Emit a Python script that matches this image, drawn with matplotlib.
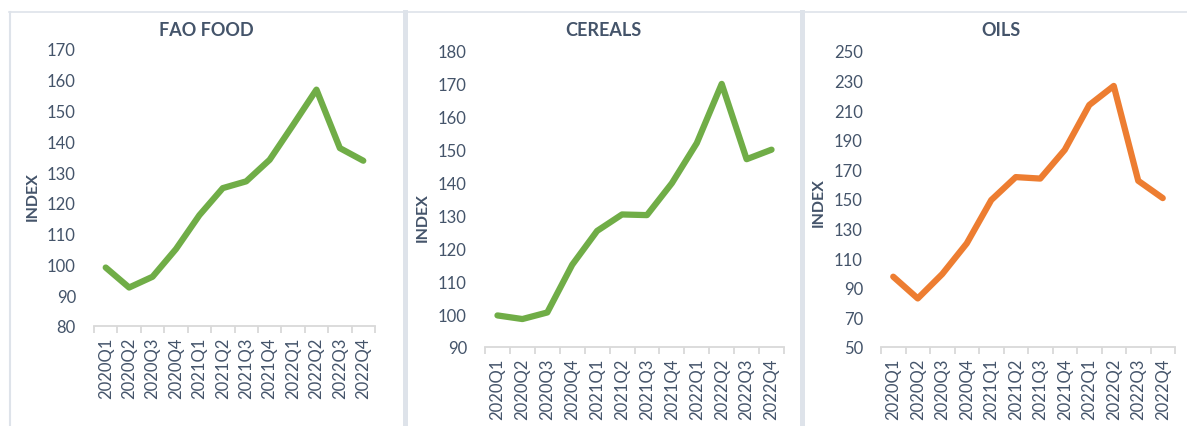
import matplotlib
matplotlib.use("Agg")
import matplotlib.pyplot as plt
from matplotlib.lines import Line2D
import numpy as np

plt.rcParams['font.family'] = ['Lato', 'DejaVu Sans']

quarters = ['2020Q1', '2020Q2', '2020Q3', '2020Q4',
            '2021Q1', '2021Q2', '2021Q3', '2021Q4',
            '2022Q1', '2022Q2', '2022Q3', '2022Q4']

fao_food = [99.0, 92.5, 96.0, 105.0, 116.0, 124.8, 127.0, 134.0, 145.3, 156.8, 137.8, 133.7]
cereals = [99.6, 98.5, 100.5, 115.0, 125.3, 130.3, 130.1, 139.8, 152.0, 170.0, 147.1, 150.0]
oils = [97.5, 82.8, 99.3, 120.0, 149.3, 164.8, 163.8, 183.2, 213.5, 226.4, 162.3, 150.6]

titles = ['FAO FOOD', 'CEREALS', 'OILS']
series = [fao_food, cereals, oils]
colors = ['#70AD47', '#70AD47', '#ED7D31']
yranges = [(80, 170, 10), (90, 180, 10), (50, 250, 20)]

W, H = 1187, 427
txt = '#44546A'
grid = '#D9D9D9'
frame = '#DEE3EA'

fig = plt.figure(figsize=(W / 100, H / 100), dpi=100)

# axes boxes in pixels: left, right, top (max tick), bottom (min tick)
boxes = [(94, 375, 50, 327), (485, 784, 52, 348), (881, 1175, 52, 348)]
title_x = [206, 603, 1001]
index_pos = [(33, 197), (423, 218), (819, 203)]

for i in range(3):
    l, r, t, b = boxes[i]
    ax = fig.add_axes([l / W, 1 - b / H, (r - l) / W, (b - t) / H])
    x = np.arange(len(quarters))
    ax.plot(x, series[i], color=colors[i], lw=4.5, solid_capstyle='round',
            solid_joinstyle='round')
    lo, hi, step = yranges[i]
    ax.set_ylim(lo, hi)
    ax.set_yticks(np.arange(lo, hi + 1, step))
    ax.set_xlim(-0.5, len(quarters) - 0.5)
    ax.set_xticks(x)
    ax.set_xticklabels(quarters, rotation=90)
    ax.set_xticks(np.arange(-0.5, len(quarters), 1), minor=True)
    for s in ['top', 'right', 'left']:
        ax.spines[s].set_visible(False)
    ax.spines['bottom'].set_color(grid)
    ax.spines['bottom'].set_linewidth(1.3)
    ax.tick_params(axis='x', which='major', length=0, pad=8, labelsize=12, labelcolor=txt)
    ax.tick_params(axis='x', which='minor', length=5, width=1.3, color=grid)
    ax.tick_params(axis='y', length=0, pad=13, labelsize=12, labelcolor=txt)
    ax.patch.set_alpha(0)
    fig.text(title_x[i] / W, 1 - 30 / H, titles[i], ha='center', va='center',
             fontsize=13, fontweight='bold', color=txt)
    fig.text(index_pos[i][0] / W, 1 - index_pos[i][1] / H, 'INDEX', rotation=90,
             ha='center', va='center', fontsize=11.5, fontweight='bold', color=txt)

# panel frames
fig.add_artist(Line2D([9 / W, 1], [1 - 12.5 / H, 1 - 12.5 / H], color=frame, lw=1.2))
fig.add_artist(Line2D([10 / W, 10 / W], [0, 1 - 12.5 / H], color=frame, lw=1.5))
for sx in [404.5, 802]:
    fig.add_artist(Line2D([sx / W, sx / W], [0, 1 - 12.5 / H], color=frame, lw=3.6))

fig.savefig('out.png', dpi=100)
